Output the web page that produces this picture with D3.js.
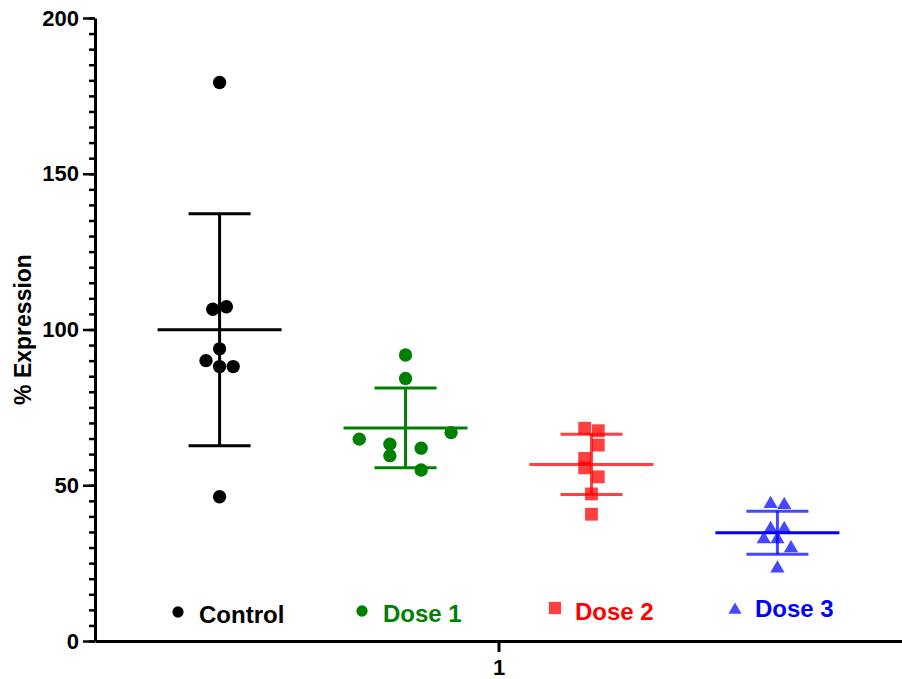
<!DOCTYPE html>
<html>
<head>
<meta charset="utf-8">
<script src="https://cdn.jsdelivr.net/npm/d3@7"></script>
<style>
  body { margin: 0; background: white; }
  text { font-family: "Liberation Sans", Arial, Helvetica, sans-serif; font-weight: bold; }
</style>
</head>
<body>
<div id="chart"></div>
<script>
// Data
const groups = ["Control", "Dose 1", "Dose 2", "Dose 3"];
const controlValues = [179.3, 106.5, 107.3, 93.8, 90.0, 88.1, 88.1, 46.3];
const dose1Values = [91.8, 84.3, 64.8, 63.2, 59.5, 61.9, 66.9, 54.9];
const dose2Values = [68.3, 67.5, 62.9, 58.6, 55.6, 52.7, 47.2, 40.7];
const dose3Values = [44.0, 43.7, 36.0, 36.0, 32.7, 32.7, 29.8, 23.3];
// horizontal scatter of the points, in symbol widths
const controlJitter = [0, -0.5, 0.5, 0, -1, 0, 1, 0];
const dose1Jitter = [0, 0, -3.4, -1.15, -1.15, 1.15, 3.35, 1.15];
const dose2Jitter = [-0.5, 0.5, 0.5, -0.5, -0.5, 0.5, 0, 0];
const dose3Jitter = [-0.5, 0.5, -0.5, 0.5, -1, 0, 1, 0];
const xCategories = ["1"];
const yTicks = [0, 50, 100, 150, 200];

const series = [
    { name: groups[0], values: controlValues, jitter: controlJitter },
    { name: groups[1], values: dose1Values, jitter: dose1Jitter },
    { name: groups[2], values: dose2Values, jitter: dose2Jitter },
    { name: groups[3], values: dose3Values, jitter: dose3Jitter }
];

let width = 902, height = 679;
let margin = { top: 18, bottom: 38, left: 95, right: 0 };

let svg = d3.select("#chart")
    .append("svg")
    .attr("width", width)
    .attr("height", height)
    .style("background", "white");

// Scales
let yScale = d3.scaleLinear()
    .domain([0, 200])
    .range([height - margin.bottom, margin.top]);

let xScale = d3.scalePoint()
    .domain(xCategories)
    .range([margin.left, width - margin.right])
    .padding(0.5);

// groups sit side by side inside the single x category
let groupScale = d3.scalePoint()
    .domain(groups)
    .range([margin.left, width])
    .padding(0.67);

const color = d3.scaleOrdinal()
    .domain(groups)
    .range(["#000000", "#008000", "#ff0000", "#0000ff"]);
const opacity = d3.scaleOrdinal()
    .domain(groups)
    .range([1, 1, 0.75, 0.72]);
const shape = d3.scaleOrdinal()
    .domain(groups)
    .range([d3.symbolCircle, d3.symbolCircle, d3.symbolSquare, d3.symbolTriangle]);
const symbolSize = d3.scaleOrdinal()
    .domain(groups)
    .range([140, 140, 165, 88]);

const jitterUnit = 13.6;

// Minor ticks on y axis
svg.append("g")
    .attr("transform", `translate(${margin.left},0)`)
    .call(d3.axisLeft(yScale).tickValues(d3.range(0, 201, 5)).tickSize(6).tickFormat(""))
    .call(g => g.select(".domain").remove())
    .call(g => g.selectAll("line").attr("stroke-width", 2.5));

// Major y axis
let yAxis = svg.append("g")
    .attr("transform", `translate(${margin.left},0)`)
    .call(d3.axisLeft(yScale).tickValues(yTicks).tickSize(12).tickSizeOuter(0).tickPadding(4));
yAxis.select(".domain").attr("stroke-width", 3);
yAxis.selectAll("line").attr("stroke-width", 2.5);
yAxis.selectAll("text")
    .style("font-size", "22px")
    .attr("fill", "black");

// x axis
let xAxis = svg.append("g")
    .attr("transform", `translate(0,${height - margin.bottom})`)
    .call(d3.axisBottom(xScale).tickSize(11).tickSizeOuter(0).tickPadding(7));
xAxis.select(".domain").attr("stroke-width", 3);
xAxis.selectAll("line").attr("stroke-width", 3);
xAxis.selectAll("text")
    .style("font-size", "22px")
    .attr("fill", "black");

// y-axis label
svg.append("text")
    .attr("transform", "rotate(-90)")
    .attr("x", -(margin.top + height - margin.bottom) / 2)
    .attr("y", 31)
    .attr("text-anchor", "middle")
    .style("font-size", "23px")
    .text("% Expression");

// Error bars (mean ± SD) and points per group
series.forEach(s => {
    const cx = groupScale(s.name);
    const mean = d3.mean(s.values);
    const sd = d3.deviation(s.values);
    const g = svg.append("g")
        .attr("stroke", color(s.name))
        .attr("stroke-width", 3);

    g.append("line")
        .attr("x1", cx).attr("x2", cx)
        .attr("y1", yScale(mean - sd))
        .attr("y2", yScale(mean + sd))
        .attr("stroke-opacity", opacity(s.name));

    [mean - sd, mean + sd].forEach(v => {
        g.append("line")
            .attr("x1", cx - 31).attr("x2", cx + 31)
            .attr("y1", yScale(v)).attr("y2", yScale(v))
            .attr("stroke-opacity", opacity(s.name));
    });

    g.append("line")
        .attr("x1", cx - 62).attr("x2", cx + 62)
        .attr("y1", yScale(mean)).attr("y2", yScale(mean))
        .attr("stroke-opacity", s.name === "Dose 3" ? 1 : opacity(s.name));

    svg.append("g")
        .selectAll("path")
        .data(s.values.map((v, i) => ({ v: v, j: s.jitter[i] })))
        .enter()
        .append("path")
        .attr("transform", d => `translate(${cx + d.j * jitterUnit},${yScale(d.v)})`)
        .attr("d", d3.symbol().type(shape(s.name)).size(symbolSize(s.name)))
        .attr("fill", color(s.name))
        .attr("fill-opacity", opacity(s.name));
});

// Legend
const legendPos = [
    { x: 178, y: 612, tx: 199, ty: 623, size: 100 },
    { x: 362, y: 611, tx: 383, ty: 622, size: 100 },
    { x: 555, y: 608, tx: 575, ty: 620, size: 150 },
    { x: 735, y: 610, tx: 755, ty: 617, size: 75 }
];

groups.forEach((name, i) => {
    const p = legendPos[i];
    svg.append("path")
        .attr("transform", `translate(${p.x},${p.y})`)
        .attr("d", d3.symbol().type(shape(name)).size(p.size))
        .attr("fill", color(name))
        .attr("fill-opacity", opacity(name));

    svg.append("text")
        .attr("x", p.tx)
        .attr("y", p.ty)
        .style("font-size", "24px")
        .attr("fill", color(name))
        .text(name);
});
</script>
</body>
</html>
